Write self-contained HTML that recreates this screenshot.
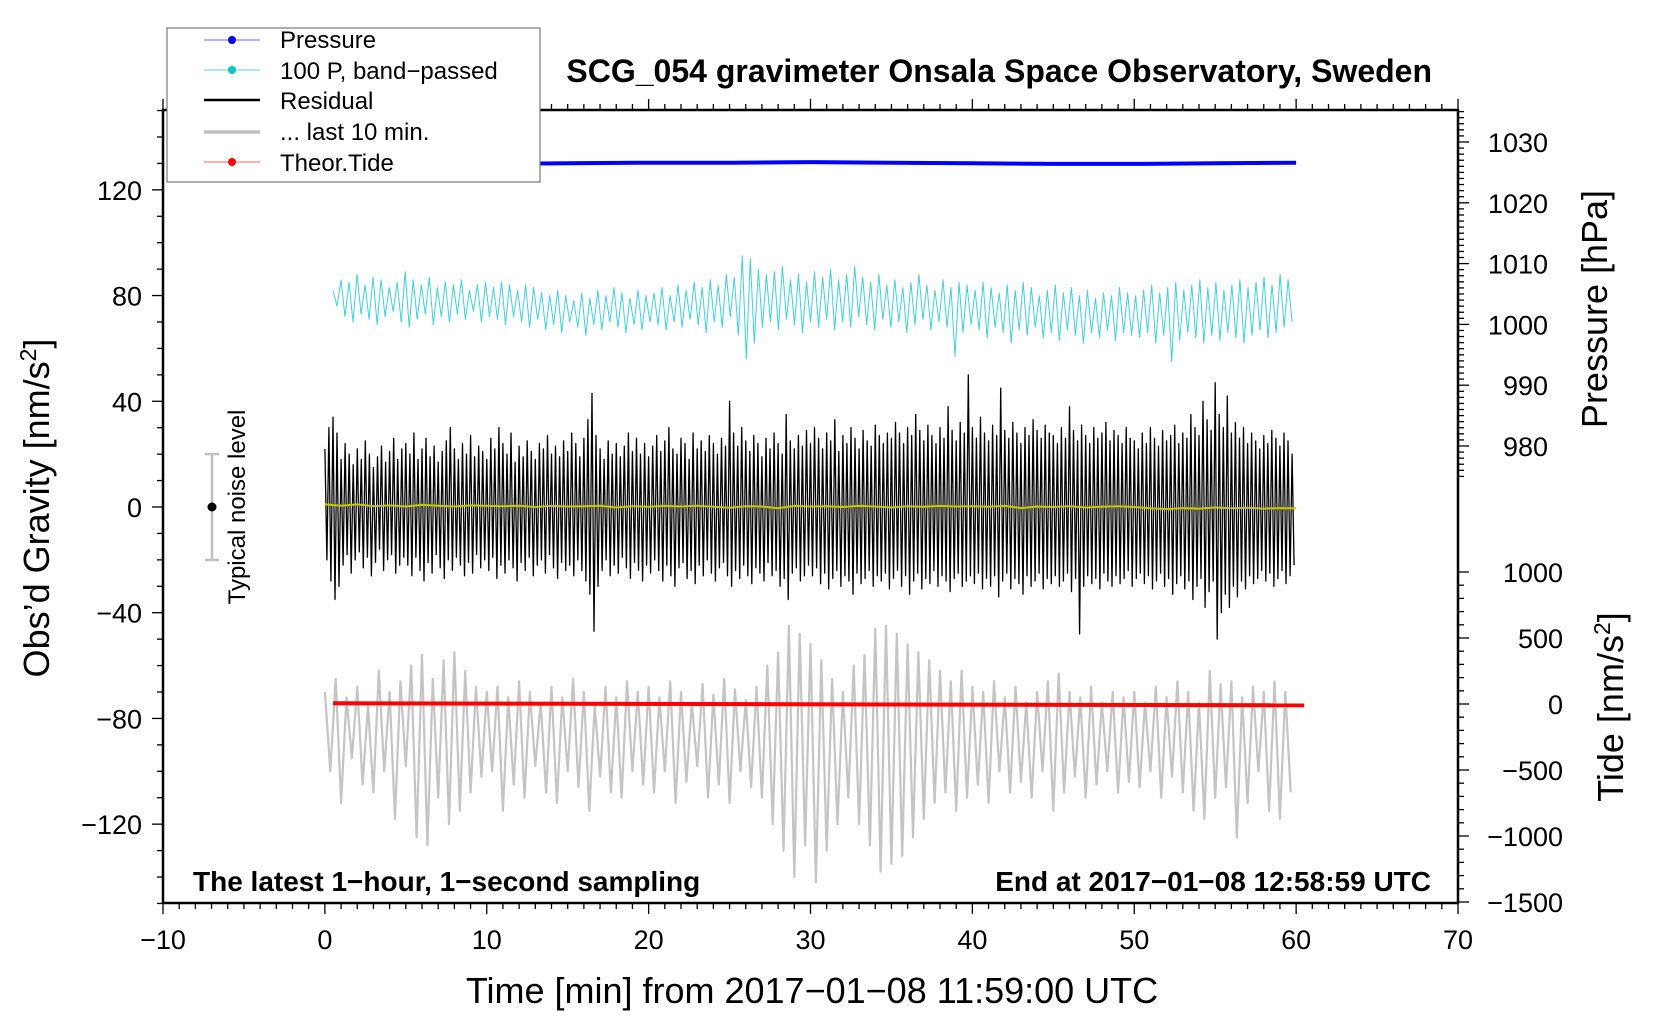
<!DOCTYPE html>
<html><head><meta charset="utf-8"><style>
body{margin:0;background:#fff;}
svg{display:block;font-family:"Liberation Sans",sans-serif;}
</style></head><body>
<svg id="c" width="1660" height="1020" viewBox="0 0 1660 1020" xmlns="http://www.w3.org/2000/svg">
<rect x="0" y="0" width="1660" height="1020" fill="#fff"/>
<g id="marks"></g>
<g id="axes"></g>
<text x="1432" y="82" text-anchor="end" font-size="32" font-weight="bold">SCG_054 gravimeter Onsala Space Observatory, Sweden</text>
<text x="193" y="891" font-size="28" font-weight="bold">The latest 1−hour, 1−second sampling</text>
<text x="1431" y="891" text-anchor="end" font-size="28" font-weight="bold">End at 2017−01−08 12:58:59 UTC</text>
<text x="812" y="1003" text-anchor="middle" font-size="36">Time [min] from 2017−01−08 11:59:00 UTC</text>
<text transform="translate(49,508) rotate(-90)" text-anchor="middle" font-size="36">Obs’d Gravity [nm/s<tspan dy="-13" font-size="23">2</tspan><tspan dy="13">]</tspan></text>
<text transform="translate(1607,309) rotate(-90)" text-anchor="middle" font-size="36">Pressure [hPa]</text>
<text transform="translate(1623,707) rotate(-90)" text-anchor="middle" font-size="36">Tide [nm/s<tspan dy="-13" font-size="23">2</tspan><tspan dy="13">]</tspan></text>
<g>
<line x1="212" y1="454" x2="212" y2="560" stroke="#c0c0c0" stroke-width="2.5"/>
<line x1="205" y1="454" x2="219" y2="454" stroke="#c0c0c0" stroke-width="2.5"/>
<line x1="205" y1="560" x2="219" y2="560" stroke="#c0c0c0" stroke-width="2.5"/>
<circle cx="212" cy="507" r="4.5" fill="#000"/>
<text transform="translate(245,507) rotate(-90)" text-anchor="middle" font-size="24">Typical noise level</text>
</g>
<g>
<rect x="167" y="28" width="373" height="154" fill="#fff" stroke="#777" stroke-width="1.2"/>
<g><line x1="204" y1="40" x2="260" y2="40" stroke="#6060ff" stroke-width="1"/><circle cx="232" cy="40" r="4" fill="#0000ff"/><text x="280" y="48" font-size="24">Pressure</text></g>
<g><line x1="204" y1="70" x2="260" y2="70" stroke="#50d8d8" stroke-width="1"/><circle cx="232" cy="70" r="4" fill="#00c8c8"/><text x="280" y="79" font-size="24">100 P, band−passed</text></g>
<g><line x1="204" y1="100" x2="260" y2="100" stroke="#000" stroke-width="2.5"/><text x="280" y="109" font-size="24">Residual</text></g>
<g><line x1="204" y1="132" x2="260" y2="132" stroke="#c0c0c0" stroke-width="3.5"/><text x="280" y="140" font-size="24">... last 10 min.</text></g>
<g><line x1="204" y1="162" x2="260" y2="162" stroke="#ff6060" stroke-width="1"/><circle cx="232" cy="162" r="4" fill="#ff0000"/><text x="280" y="171" font-size="24">Theor.Tide</text></g>
</g>
</svg>
<script>
// ---- data ----
const residualHi=[22,30,34,28,18,24,20,16,22,18,25,20,15,19,23,17,21,26,18,22,
24,20,28,18,22,26,19,23,17,21,25,30,22,18,24,20,27,19,23,21,
18,26,22,30,24,20,28,17,23,19,25,21,18,24,22,27,20,23,19,25,
21,28,24,19,26,33,43,27,22,18,25,20,24,19,23,28,21,26,20,24,
19,23,27,21,25,30,22,20,26,24,18,28,22,25,21,27,24,20,26,23,
40,28,23,30,25,21,27,24,19,26,22,28,24,20,35,25,22,27,23,29,
24,30,26,22,28,25,33,21,27,24,30,26,22,29,25,23,31,27,24,28,
26,32,28,24,30,27,35,29,25,31,27,24,30,26,38,29,25,32,28,50,
30,26,34,28,25,31,27,45,29,26,32,28,24,30,27,33,29,26,31,28,
27,24,30,26,38,29,25,31,27,24,30,26,28,32,25,29,27,24,30,26,
25,22,28,24,30,26,23,29,25,27,31,24,28,26,35,30,27,40,33,29,
47,35,30,42,28,32,26,30,24,28,25,22,27,24,29,26,23,28,25,20];
const residualLo=[-20,-28,-35,-30,-22,-18,-25,-20,-17,-23,-19,-26,-21,-16,-24,-20,-18,-25,-22,-19,
-22,-26,-19,-24,-28,-21,-25,-18,-23,-27,-20,-24,-19,-22,-26,-21,-25,-18,-23,-20,
-24,-19,-27,-22,-25,-20,-23,-28,-21,-24,-19,-26,-22,-20,-25,-18,-23,-27,-21,-24,
-22,-26,-20,-24,-28,-33,-47,-30,-24,-20,-26,-22,-25,-19,-23,-27,-21,-24,-28,-22,
-25,-20,-24,-28,-22,-26,-30,-23,-21,-27,-24,-29,-22,-26,-20,-25,-28,-23,-21,-26,
-30,-24,-27,-22,-26,-29,-23,-25,-28,-21,-26,-24,-30,-27,-35,-25,-23,-28,-26,-22,
-26,-23,-29,-25,-31,-27,-24,-30,-26,-28,-33,-25,-29,-27,-24,-30,-26,-28,-25,-31,
-27,-24,-30,-26,-33,-28,-25,-31,-27,-29,-24,-30,-26,-28,-32,-27,-25,-30,-28,-26,
-29,-25,-31,-27,-30,-26,-34,-28,-25,-31,-27,-29,-33,-26,-30,-28,-25,-31,-27,-29,
-26,-30,-28,-25,-32,-27,-48,-30,-26,-29,-27,-31,-25,-28,-30,-26,-29,-27,-24,-30,
-27,-25,-29,-26,-31,-28,-25,-30,-27,-33,-29,-26,-31,-28,-35,-30,-27,-38,-32,-28,
-50,-40,-33,-38,-30,-34,-28,-31,-26,-29,-27,-24,-28,-25,-30,-27,-24,-29,-26,-22];
const bandHi=[82,86,85,88,84,87,86,83,85,89,86,84,87,83,85,84,86,82,84,85,
83,85,84,82,84,83,81,80,82,80,78,81,79,82,80,83,81,79,82,80,
81,83,80,84,82,85,83,86,84,88,87,95,94,90,88,89,91,86,88,85,
89,87,90,86,88,91,87,85,88,84,86,83,85,88,84,82,86,83,85,84,
82,85,83,81,84,82,85,83,80,82,84,81,83,80,82,79,81,80,83,81,
80,82,84,81,83,85,82,84,86,83,85,82,84,86,83,85,87,84,88,86];
const bandLo=[76,72,70,73,71,69,72,74,70,68,71,73,69,72,70,73,71,74,70,72,
71,69,72,70,68,71,67,69,66,70,68,65,69,67,70,68,66,69,67,70,
69,67,70,68,71,69,66,70,68,72,65,56,62,68,70,67,71,69,66,70,
68,71,67,70,68,72,69,67,71,68,70,66,69,71,67,70,68,57,66,69,
67,64,68,66,62,67,65,68,64,66,63,67,65,62,66,64,67,63,66,65,
64,66,62,65,55,63,66,64,62,65,63,66,64,62,65,67,64,66,68,70];
const last10Peaks=[-70,-65,-72,-68,-75,-62,-70,-66,-60,-56,-65,-58,-55,-62,-68,
-70,-68,-72,-66,-70,-74,-68,-72,-65,-70,-75,-68,-72,-66,-70,
-68,-72,-66,-70,-74,-67,-71,-65,-69,-73,-68,-60,-55,-45,-48,
-52,-58,-65,-70,-60,-56,-46,-45,-48,-52,-55,-58,-62,-66,-62,
-68,-70,-66,-72,-68,-74,-70,-66,-63,-70,-72,-68,-74,-70,-72,
-70,-74,-68,-72,-66,-70,-74,-62,-67,-66,-72,-68,-70,-66,-70];
const last10Troughs=[-100,-112,-95,-105,-108,-100,-118,-98,-125,-128,-110,-120,-115,-108,-102,
-100,-115,-105,-110,-98,-108,-112,-100,-106,-115,-102,-108,-110,-100,-105,
-108,-100,-112,-104,-98,-110,-105,-112,-100,-106,-110,-120,-130,-140,-128,
-142,-130,-120,-110,-120,-128,-138,-135,-132,-125,-118,-112,-108,-115,-110,
-105,-112,-100,-108,-104,-110,-100,-115,-108,-102,-110,-105,-100,-108,-104,
-106,-100,-110,-102,-108,-115,-118,-110,-106,-125,-112,-100,-115,-118,-108];
const smoothRes=[1,0.5,1,0.3,0.6,0.2,0.8,0.5,0.2,0.6,0.4,0.3,0.5,0,0.4,0.2,0.3,0.5,-0.2,0.3,0.1,0.4,0.2,0.5,0.1,-0.3,0.3,0.2,-0.5,0.4,0.2,0.3,0,0.4,0.2,-0.2,0.3,0.1,0.4,0.2,0.3,0.1,0.4,-0.4,0.2,0,0.3,-0.2,0.1,0.3,0,-0.5,-0.8,-0.4,-0.6,-0.2,-0.5,-0.3,-0.6,-0.4,-0.5];
const pressureVals=[1026.3,1026.4,1026.4,1026.5,1026.6,1026.6,1026.7,1026.6,1026.5,1026.4,1026.4,1026.5,1026.6];
const tideX=[0.5,60.5];
const tideVals=[5,-10];
const xTicks=[-10,0,10,20,30,40,50,60,70];
const gTicks=[-120,-80,-40,0,40,80,120];
const pTicks=[980,990,1000,1010,1020,1030];
const tTicks=[-1500,-1000,-500,0,500,1000];

// ---- scales ----
const L=163,R=1458,T=110,B=903;
const X=v=>L+(v+10)*(R-L)/80;
const Y=v=>507-v*2.643;
const YP=v=>142+(1030-v)*6.08;
const YT=v=>704-v*0.132;
const NS='http://www.w3.org/2000/svg';
const marks=document.getElementById('marks'),axes=document.getElementById('axes');
function mk(tag,attrs,parent){const e=document.createElementNS(NS,tag);for(const k in attrs)e.setAttribute(k,attrs[k]);parent.appendChild(e);return e;}
function poly(pts,stroke,w,name){const e=mk('polyline',{points:pts.map(p=>p[0].toFixed(1)+','+p[1].toFixed(1)).join(' '),fill:'none',stroke:stroke,'stroke-width':w,'stroke-linejoin':'round'},marks);

return e;}

let g=[];const gs=60/last10Peaks.length;
last10Peaks.forEach((v,i)=>{g.push([X(i*gs),Y(v)]);g.push([X(i*gs+gs/2),Y(last10Troughs[i])]);});
poly(g,'#c4c4c4',2.2,'last-10-min-series');
let r=[];const rs=60/residualHi.length;
residualHi.forEach((v,i)=>{r.push([X(i*rs),Y(v)]);r.push([X(i*rs+rs/2),Y(residualLo[i])]);});
poly(r,'#000',1.3,'residual-series');
let s=smoothRes.map((v,i)=>[X(i*60/(smoothRes.length-1)),Y(v)]);
poly(s,'#c8c800',2,'smoothed-residual-series');
let c=[];const cs=59.5/bandHi.length;
bandHi.forEach((v,i)=>{c.push([X(0.5+i*cs),Y(v)]);c.push([X(0.5+i*cs+cs/2),Y(bandLo[i])]);});
poly(c,'#40d0d8',1,'bandpassed-pressure-series');
let p=pressureVals.map((v,i)=>[X(i*60/(pressureVals.length-1)),YP(v)]);
poly(p,'#0000ff',4,'pressure-series');
let t=tideVals.map((v,i)=>[X(tideX[i]),YT(v)]);
poly(t,'#ff0000',4,'tide-series');

// ---- axes ----
const fr=mk('rect',{x:L,y:T,width:R-L,height:B-T,fill:'none',stroke:'#000','stroke-width':2.5},axes);


function ln(x1,y1,x2,y2,w){mk('line',{x1,y1,x2,y2,stroke:'#000','stroke-width':w||1.3},axes);}
for(let m=-10;m<=70;m++){const x=X(m),maj=m%10===0,len=maj?11:6;ln(x,B,x,B+len);ln(x,T,x,T-len);}
xTicks.forEach(v=>{const e=mk('text',{x:X(v),y:949,'text-anchor':'middle','font-size':27},axes);e.textContent=String(v).replace('-','−');

});
for(let v=-150;v<=150;v+=10){const y=Y(v),maj=v%40===0;ln(L-(maj?11:6),y,L,y);}
gTicks.forEach(v=>{const e=mk('text',{x:142,y:Y(v)+10,'text-anchor':'end','font-size':27},axes);e.textContent=String(v).replace('-','−');

});
for(let v=975;v<=1035;v++){const y=YP(v),maj=v%10===0;ln(R,y,R+(maj?11:6),y);}
pTicks.forEach(v=>{const e=mk('text',{x:1548,y:YP(v)+10,'text-anchor':'end','font-size':27},axes);e.textContent=String(v);

});
for(let v=-1500;v<=1000;v+=100){const y=YT(v),maj=v%500===0;ln(R,y,R+(maj?11:6),y);}
tTicks.forEach(v=>{const e=mk('text',{x:1563,y:YT(v)+10,'text-anchor':'end','font-size':27},axes);e.textContent=String(v).replace('-','−');

});
</script>
</body></html>
